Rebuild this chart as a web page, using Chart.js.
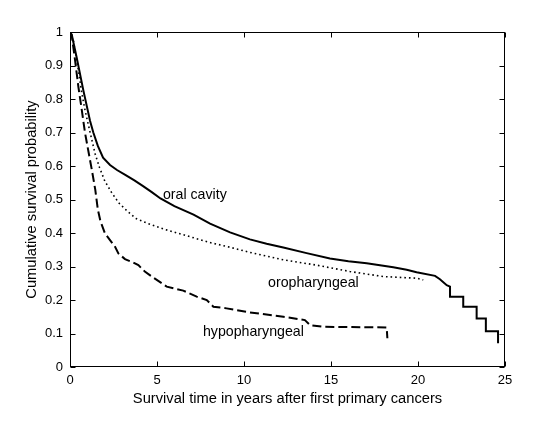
<!DOCTYPE html>
<html>
<head>
<meta charset="utf-8">
<script src="https://cdn.jsdelivr.net/npm/chart.js@4/dist/chart.umd.min.js"></script>
<style>
  html, body { margin: 0; padding: 0; background: #fff; }
  #wrap { width: 539px; height: 436px; }
</style>
</head>
<body>
<div id="wrap"><canvas id="c" width="539" height="436"></canvas></div>
<script>
// ---- Data ----
const oralYears = [0, 0.1, 0.38, 0.77, 1.15, 1.34, 1.6, 1.9, 2.3, 2.7, 3.2, 3.7, 4.2, 4.7, 5.2, 6.0, 7.1, 8.05, 9.2, 10.34, 11.3, 12.26, 13.6, 14.94, 16.0, 17.05, 18.58, 19.35, 19.92, 20.98, 21.26, 21.65, 21.84, 21.84, 22.6, 22.6, 23.37, 23.37, 23.9, 23.9, 24.6, 24.6];
const oralSurv  = [1, 0.992, 0.925, 0.825, 0.735, 0.7, 0.66, 0.625, 0.603, 0.588, 0.573, 0.557, 0.54, 0.522, 0.503, 0.48, 0.455, 0.428, 0.402, 0.381, 0.368, 0.357, 0.34, 0.324, 0.316, 0.31, 0.298, 0.29, 0.283, 0.272, 0.262, 0.244, 0.24, 0.21, 0.21, 0.18, 0.18, 0.145, 0.145, 0.107, 0.107, 0.071];

const oroYears = [0, 0.19, 0.48, 0.67, 0.85, 1.0, 1.2, 1.45, 1.7, 2.0, 2.4, 2.8, 3.3, 3.8, 4.5, 5.5, 6.5, 8.0, 9.0, 10.34, 12.26, 14.18, 16.09, 18.0, 19.92, 20.3];
const oroSurv  = [1, 0.976, 0.887, 0.82, 0.77, 0.735, 0.69, 0.635, 0.595, 0.555, 0.52, 0.49, 0.465, 0.443, 0.428, 0.41, 0.395, 0.372, 0.36, 0.342, 0.32, 0.304, 0.285, 0.27, 0.265, 0.26];

const hypoYears = [0, 0.1, 0.29, 0.48, 0.67, 0.86, 1.0, 1.25, 1.45, 1.6, 1.75, 2.01, 2.3, 2.59, 2.78, 3.16, 3.54, 3.93, 4.3, 4.7, 5.56, 6.51, 7.28, 7.86, 8.24, 9.0, 10.34, 12.26, 13.5, 13.8, 14.6, 18.2, 18.24];
const hypoSurv  = [1, 0.99, 0.916, 0.837, 0.77, 0.7, 0.66, 0.59, 0.53, 0.47, 0.435, 0.399, 0.379, 0.359, 0.339, 0.322, 0.314, 0.304, 0.285, 0.27, 0.24, 0.228, 0.21, 0.2, 0.18, 0.175, 0.163, 0.15, 0.14, 0.125, 0.12, 0.118, 0.086];

const xTickValues = [0, 5, 10, 15, 20, 25];
const yTickValues = [0, 0.1, 0.2, 0.3, 0.4, 0.5, 0.6, 0.7, 0.8, 0.9, 1];
const yTickLabels = ['0', '0.1', '0.2', '0.3', '0.4', '0.5', '0.6', '0.7', '0.8', '0.9', '1'];

const seriesNames = ['oral cavity', 'oropharyngeal', 'hypopharyngeal'];

// ---- Build ----
const toPts = (xs, ys) => xs.map((x, i) => ({ x: x, y: ys[i] }));
const FONT = "'Liberation Sans', Arial, Helvetica, sans-serif";

const labelPlacements = [
  { text: seriesNames[0], x: 5.34, y: 0.513 },
  { text: seriesNames[1], x: 11.38, y: 0.251 },
  { text: seriesNames[2], x: 7.64, y: 0.105 }
];

const boxAndTicks = {
  id: 'boxAndTicks',
  afterDraw(chart) {
    const ctx = chart.ctx;
    const a = chart.chartArea;
    const xs = chart.scales.x, ys = chart.scales.y;
    ctx.save();
    ctx.strokeStyle = '#000';
    ctx.lineWidth = 1;
    const L = Math.round(a.left) + 0.5, R = Math.round(a.right) - 0.5;
    const T = Math.round(a.top) + 0.5, B = Math.round(a.bottom) - 0.5;
    ctx.strokeRect(L, T, R - L, B - T);
    const tl = 5;
    ctx.beginPath();
    xTickValues.forEach(v => {
      const px = Math.round(xs.getPixelForValue(v)) + 0.5;
      ctx.moveTo(px, B); ctx.lineTo(px, B - tl);
      ctx.moveTo(px, T); ctx.lineTo(px, T + tl);
    });
    yTickValues.forEach(v => {
      const py = Math.round(ys.getPixelForValue(v)) + 0.5;
      ctx.moveTo(L, py); ctx.lineTo(L + tl, py);
      ctx.moveTo(R, py); ctx.lineTo(R - tl, py);
    });
    ctx.stroke();
    // series labels
    ctx.fillStyle = '#000';
    ctx.font = '14.2px ' + FONT;
    ctx.textAlign = 'left';
    ctx.textBaseline = 'middle';
    labelPlacements.forEach(l => {
      ctx.fillText(l.text, xs.getPixelForValue(l.x), ys.getPixelForValue(l.y));
    });
    ctx.restore();
  }
};

new Chart(document.getElementById('c'), {
  type: 'line',
  data: {
    datasets: [
      { label: seriesNames[0], data: toPts(oralYears, oralSurv), borderColor: '#000', borderWidth: 2, pointRadius: 0, fill: false, tension: 0 },
      { label: seriesNames[1], data: toPts(oroYears, oroSurv), borderColor: '#000', borderWidth: 1.6, borderDash: [1.6, 3], pointRadius: 0, fill: false, tension: 0 },
      { label: seriesNames[2], data: toPts(hypoYears, hypoSurv), borderColor: '#000', borderWidth: 2, borderDash: [9, 4], pointRadius: 0, fill: false, tension: 0 }
    ]
  },
  options: {
    responsive: false,
    animation: false,
    events: [],
    layout: { padding: { left: 0, right: 34, top: 32, bottom: 0 } },
    plugins: { legend: { display: false }, tooltip: { enabled: false } },
    scales: {
      x: {
        type: 'linear', min: 0, max: 25,
        afterBuildTicks: s => { s.ticks = xTickValues.map(v => ({ value: v })); },
        afterFit: s => { s.height = 69; },
        grid: { display: false, drawTicks: false },
        border: { display: false },
        ticks: { color: '#000', font: { family: FONT, size: 13 }, padding: 6, maxRotation: 0, autoSkip: false, callback: v => String(v) },
        title: { display: true, text: 'Survival time in years after first primary cancers', color: '#000', font: { family: FONT, size: 14.7 }, padding: { top: 0, bottom: 28 } }
      },
      y: {
        type: 'linear', min: 0, max: 1,
        afterBuildTicks: s => { s.ticks = yTickValues.map(v => ({ value: v })); },
        afterFit: s => { s.width = 70; },
        grid: { display: false, drawTicks: false },
        border: { display: false },
        ticks: { color: '#000', font: { family: FONT, size: 13 }, padding: 7, autoSkip: false, callback: (v) => yTickLabels[yTickValues.findIndex(t => Math.abs(t - v) < 1e-9)] },
        title: { display: true, text: 'Cumulative survival probability', color: '#000', font: { family: FONT, size: 14.7 }, padding: { top: 23, bottom: 0 } }
      }
    }
  },
  plugins: [boxAndTicks]
});
</script>
</body>
</html>
